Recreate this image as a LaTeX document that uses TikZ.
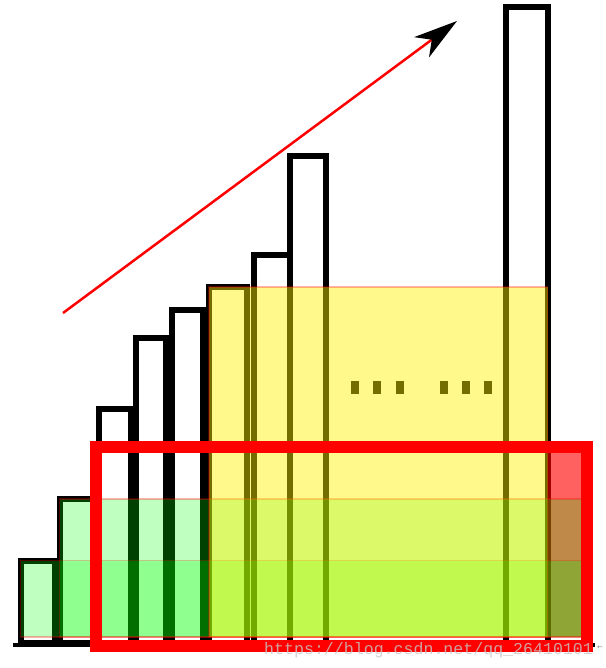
\documentclass[tikz,border=0pt]{standalone}
\usepackage{fontspec}
\setmonofont{Liberation Mono}
\newfontfamily\setafont{DejaVu Sans}
\usetikzlibrary{arrows.meta}

\tikzset{
  barra/.style={draw=black, fill=white, line width=6pt},
  verde/.style={fill=green, fill opacity=0.25, draw=red, draw opacity=0.3, line width=1.5pt},
  amarela/.style={fill=yellow, fill opacity=0.45, draw=red, draw opacity=0.3, line width=1.5pt},
  vermelha/.style={fill=red, fill opacity=0.62}
}

\begin{document}
\begin{tikzpicture}[x=1pt,y=-1pt]
  \useasboundingbox (0,0) rectangle (605,668);
  % Linha de base
  \draw[line width=4pt] (13,645) -- (595,645);
  % Barras
  \foreach \xa/\xb/\topo in {20.5/54.5/560.5, 59.5/94/499, 99/130.5/409,
      135.5/166/338, 172/203/310, 209/246.5/287, 253.5/289.5/255,
      289.5/325.5/156.5, 505.5/547.5/7.5}
    \draw[barra] (\xa,643) rectangle (\xb,\topo);
  % Reticencias
  \foreach \x in {351,373,396,440,462,484}
    \fill (\x,381) rectangle ++(7.5,13);
  % Camadas transparentes
  \fill[vermelha] (547.5,447) rectangle (587,637);
  \filldraw[verde] (20.5,560.5) rectangle (587,637);
  \filldraw[verde] (59.5,499) rectangle (587,637);
  \filldraw[amarela] (209,287) rectangle (547.5,637);
  % Moldura
  \draw[red, line width=12pt] (96,447) rectangle (587,646);
  % Seta
  \coordinate (inicio) at (63,313);
  \coordinate (fim) at (457,21);
  \draw[red, line width=2.5pt, -{Stealth[length=44pt,width=25pt,inset=12.6pt,black]}]
    (inicio) -- (fim);
  % Marca d'agua
  \node[anchor=base west, inner sep=0pt, text=black!22, text opacity=0.8,
    font=\ttfamily\fontsize{16.6}{18}\selectfont] (marca) at (264,654)
    {https://blog.csdn.net/qq\_26410101};
  \node[inner sep=0pt, text=black!45, font=\setafont\fontsize{7}{8}\selectfont]
    (retorno) at (600,648) {←};
\end{tikzpicture}
\end{document}
